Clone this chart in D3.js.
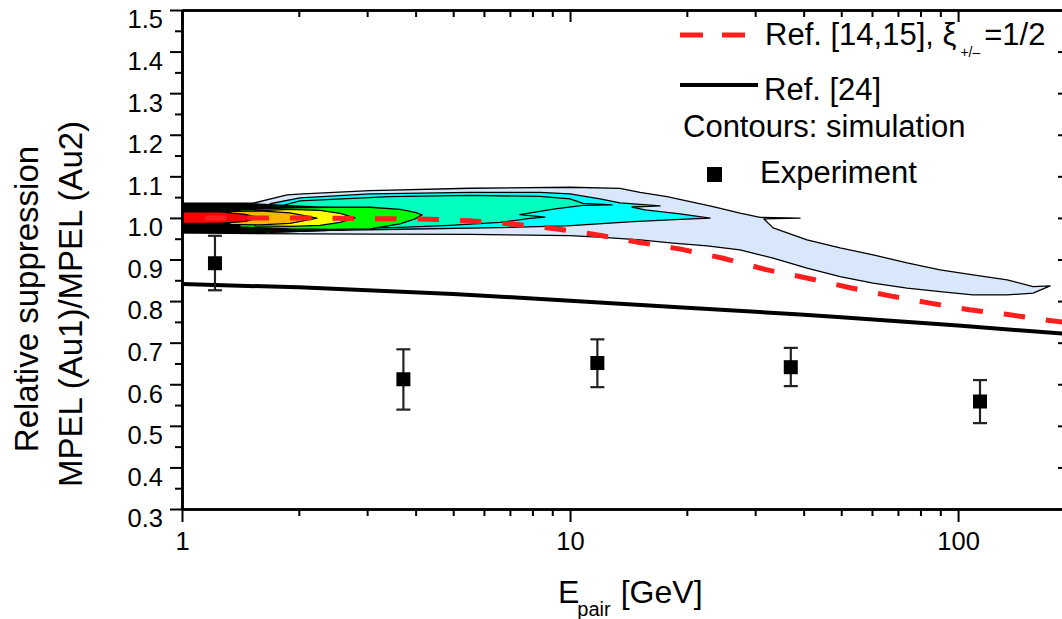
<!DOCTYPE html>
<html>
<head>
<meta charset="utf-8">
<script src="https://cdn.jsdelivr.net/npm/d3@7"></script>
<style>
  body { margin: 0; background: #fff; }
  svg { display: block; font-family: "Liberation Sans", Arial, sans-serif; }
</style>
</head>
<body>
<svg id="chart" width="1062" height="619"></svg>
<script>
// measured points, E_pair [GeV] vs ratio
const expE = [1.216, 3.72, 11.76, 37.06, 113.9];
const expV = [0.891, 0.612, 0.651, 0.641, 0.5585];
const expHi = [0.957, 0.684, 0.708, 0.6875, 0.610];
const expLo = [0.826, 0.539, 0.593, 0.5955, 0.5065];

// Ref. [14,15] (dashed red)
const refAE = [1, 2.01, 4.31, 5.52, 7.13, 9.15, 11.8, 15.1, 19.3, 24.8, 32.2, 41.0, 52.7, 66.8, 84.7, 107, 136, 166, 192];
const refAV = [1.0, 1.0, 0.997, 0.993, 0.985, 0.974, 0.959, 0.941, 0.925, 0.903, 0.875, 0.855, 0.832, 0.8125, 0.795, 0.779, 0.767, 0.755, 0.748];

// Ref. [24] (solid black)
const refBE = [1, 2, 5, 7.43, 10, 20, 39.2, 50, 100, 192];
const refBV = [0.841, 0.833, 0.817, 0.808, 0.801, 0.784, 0.768, 0.761, 0.741, 0.721];

// simulation contours, outline of each level as [E, ratio]
const simOuter = [
  [1.00,1.0353],[1.524,1.0353],[1.865,1.0553],[2.05,1.0577],[3.052,1.0656],[5.525,1.0714],[10.0,1.0738],
  [13.45,1.0709],[15.15,1.0613],[17.78,1.0512],[20.39,1.0392],[23.37,1.0272],[27.42,1.0113],[30.89,1.0012],
  [39.15,0.9995],[31.6,0.9976],[33.37,0.976],[40.81,0.9471],[49.65,0.9279],[60.39,0.9111],[73.88,0.8918],
  [89.87,0.875],[109.3,0.863],[133.8,0.851],[156.1,0.8349],[172.7,0.8365],
  [156.1,0.819],[133.8,0.8149],[109.3,0.8149],[89.87,0.8228],[73.88,0.831],[60.39,0.843],[49.65,0.8589],
  [40.81,0.8791],[33.37,0.9031],[27.42,0.9231],[22.55,0.9327],[18.43,0.9392],[15.15,0.9471],[12.45,0.9526],
  [10.0,0.9575],[5.525,0.9603],[3.052,0.9608],[1.13,0.9632],[1.00,0.9639]
];
const simCyan = [
  [1.686,1.0341],[2.014,1.0481],[3.052,1.0577],[5.525,1.0613],[8.37,1.0613],[10.0,1.0577],[11.95,1.0457],
  [13.45,1.0361],[17.06,1.0288],[14.45,1.0262],[15.61,1.0192],[19.21,1.0096],[22.96,0.9993],
  [19.21,0.9964],[14.54,0.9911],[9.82,0.9808],[6.6,0.9767],[3.647,0.9728],[2.406,0.97],[1.686,0.9651]
];
const simAqua = [
  [1.843,1.0313],[2.014,1.0409],[3.437,1.0512],[5.525,1.0541],[8.37,1.0517],[10.0,1.0457],[10.8,1.0349],
  [12.83,1.0313],[10.8,1.03],[9.15,1.0216],[7.43,1.0077],[8.62,1.0019],[7.89,0.9988],[6.6,0.9892],
  [4.906,0.982],[3.647,0.9772],[2.406,0.9736],[1.843,0.9736]
];
const simDense = [
  [1.0,1.0353],[1.542,1.0353],[1.898,1.0313],[2.268,1.0276],[2.631,1.0252],
  [2.631,0.97],[1.898,0.9656],[1.542,0.9632],[1.0,0.9632]
];
const simGreen = [
  [1.411,1.0192],[1.898,1.024],[2.406,1.0257],[3.052,1.0257],[3.647,1.0204],[3.986,1.0132],[4.156,1.0072],
  [3.986,0.9976],[3.647,0.9856],[3.052,0.9736],[2.406,0.9724],[1.898,0.9736],[1.411,0.9784]
];
const simYellow = [
  [1.542,1.0168],[1.898,1.0204],[2.268,1.018],[2.554,1.0108],[2.792,1.0],
  [2.554,0.9892],[2.268,0.982],[1.898,0.9796],[1.542,0.9808]
];
const simOrange = [
  [1.329,1.0156],[1.589,1.0168],[1.898,1.012],[2.228,0.9993],[1.898,0.9868],[1.589,0.9832],[1.329,0.9844]
];
const simRed = [
  [1.0,1.0151],[1.253,1.0144],[1.453,1.0084],[1.589,1.0],[1.453,0.9916],[1.253,0.9868],[1.0,0.9873]
];

const yMajor = [0.3, 0.4, 0.5, 0.6, 0.7, 0.8, 0.9, 1.0, 1.1, 1.2, 1.3, 1.4, 1.5];
const yMinor = [0.35, 0.45, 0.55, 0.65, 0.75, 0.85, 0.95, 1.05, 1.15, 1.25, 1.35, 1.45];
const xMajor = [1, 10, 100];
const xMinor = [2, 3, 4, 5, 6, 7, 8, 9, 20, 30, 40, 50, 60, 70, 80, 90];

const L = 182, R = 1068, T = 10, B = 509;
const svg = d3.select("#chart");

const x = d3.scaleLog().domain([1, 192]).range([L, R]);
const y = d3.scaleLinear().domain([0.3, 1.5]).range([B, T]);

svg.append("clipPath").attr("id", "clip")
  .append("rect").attr("x", L).attr("y", T).attr("width", R - L).attr("height", B - T);

const plot = svg.append("g").attr("clip-path", "url(#clip)");

// contours, outermost first
const levels = [
  { pts: simOuter, fill: "#d8e8fa", stroke: "#000" },
  { pts: simCyan, fill: "#00ffff", stroke: "#000" },
  { pts: simAqua, fill: "#00ffbe", stroke: "#000" },
  { pts: simDense, fill: "#000", stroke: "none" },
  { pts: simGreen, fill: "#00ff00", stroke: "#000" },
  { pts: simYellow, fill: "#ffff00", stroke: "#000" },
  { pts: simOrange, fill: "#ffb400", stroke: "#000" },
  { pts: simRed, fill: "#ff0000", stroke: "#000" }
];

const ring = d3.line().x(d => x(d[0])).y(d => y(d[1])).curve(d3.curveLinearClosed);
levels.forEach(lv => {
  plot.append("path")
    .attr("d", ring(lv.pts))
    .attr("fill", lv.fill)
    .attr("stroke", lv.stroke)
    .attr("stroke-width", 1.3)
    .attr("stroke-linejoin", "round");
});

const curve = d3.line().x(d => x(d[0])).y(d => y(d[1]));

plot.append("path")
  .attr("d", curve(d3.zip(refAE, refAV)))
  .attr("fill", "none")
  .attr("stroke", "#ff1e1e")
  .attr("stroke-width", 5)
  .attr("stroke-dasharray", "21.5,21")
  .attr("stroke-dashoffset", 19.5);

plot.append("path")
  .attr("d", curve(d3.zip(refBE, refBV)))
  .attr("fill", "none")
  .attr("stroke", "#000")
  .attr("stroke-width", 4);

// experiment with error bars
const pts = plot.selectAll(".pt").data(d3.range(expE.length)).join("g").attr("class", "pt");
pts.append("line")
  .attr("x1", i => x(expE[i])).attr("x2", i => x(expE[i]))
  .attr("y1", i => y(expHi[i])).attr("y2", i => y(expLo[i]))
  .attr("stroke", "#222").attr("stroke-width", 2.2);
pts.selectAll(".cap").data(i => [[i, expHi[i]], [i, expLo[i]]]).join("line")
  .attr("x1", d => x(expE[d[0]]) - 7).attr("x2", d => x(expE[d[0]]) + 7)
  .attr("y1", d => y(d[1])).attr("y2", d => y(d[1]))
  .attr("stroke", "#222").attr("stroke-width", 2.2);
pts.append("rect")
  .attr("x", i => x(expE[i]) - 7).attr("y", i => y(expV[i]) - 7)
  .attr("width", 14).attr("height", 14)
  .attr("fill", "#000");

// axes
function styleAxis(g, w) {
  g.select(".domain").attr("stroke-width", 2.6);
  g.selectAll(".tick line").attr("stroke-width", w);
  g.selectAll("text").attr("font-size", 25.5).attr("fill", "#000")
    .attr("font-family", "Liberation Sans, Arial, sans-serif");
}

svg.append("g").attr("transform", `translate(${L},0)`)
  .call(d3.axisLeft(y).tickValues(yMinor).tickSize(7).tickSizeOuter(0).tickFormat(""))
  .call(g => styleAxis(g, 2));
svg.append("g").attr("transform", `translate(${L},0)`)
  .call(d3.axisLeft(y).tickValues(yMajor).tickSize(12).tickSizeOuter(0).tickPadding(7).tickFormat(d3.format(".1f")))
  .call(g => styleAxis(g, 2))
  .call(g => g.selectAll("text").attr("dy", "0.7em"));

svg.append("g").attr("transform", `translate(${R},0)`)
  .call(d3.axisRight(y).tickValues(yMajor).tickSize(-10).tickSizeOuter(0).tickFormat(""))
  .call(g => styleAxis(g, 2));
svg.append("g").attr("transform", `translate(${R},0)`)
  .call(d3.axisRight(y).tickValues(yMinor).tickSize(-6).tickSizeOuter(0).tickFormat(""))
  .call(g => styleAxis(g, 2));

svg.append("g").attr("transform", `translate(0,${B})`)
  .call(d3.axisBottom(x).tickValues(xMinor).tickSize(7).tickSizeOuter(0).tickFormat(""))
  .call(g => styleAxis(g, 2));
svg.append("g").attr("transform", `translate(0,${B})`)
  .call(d3.axisBottom(x).tickValues(xMajor).tickSize(13).tickSizeOuter(0).tickPadding(10).tickFormat(d3.format("d")))
  .call(g => styleAxis(g, 2));

svg.append("g").attr("transform", `translate(0,${T})`)
  .call(d3.axisTop(x).tickValues(xMinor).tickSize(-7).tickSizeOuter(0).tickFormat(""))
  .call(g => styleAxis(g, 2));
svg.append("g").attr("transform", `translate(0,${T})`)
  .call(d3.axisTop(x).tickValues(xMajor).tickSize(-12).tickSizeOuter(0).tickFormat(""))
  .call(g => styleAxis(g, 2));

// axis titles
const xt = svg.append("text").attr("x", 558).attr("y", 603).attr("font-size", 32).attr("fill", "#000");
xt.append("tspan").text("E");
xt.append("tspan").attr("font-size", 20).attr("dx", -2).attr("dy", 13).text("pair");
xt.append("tspan").attr("dy", -13).attr("dx", 10).text("[GeV]");

svg.append("text")
  .attr("transform", "translate(38,299) rotate(-90)")
  .attr("text-anchor", "middle").attr("font-size", 33).attr("fill", "#000")
  .text("Relative suppression");
svg.append("text")
  .attr("transform", "translate(82,304) rotate(-90)")
  .attr("text-anchor", "middle").attr("font-size", 33).attr("fill", "#000")
  .text("MPEL (Au1)/MPEL (Au2)");

// legend
const lg = svg.append("g").attr("font-size", 31).attr("fill", "#000");
lg.append("line").attr("x1", 680).attr("x2", 745).attr("y1", 35).attr("y2", 35)
  .attr("stroke", "#ff1e1e").attr("stroke-width", 5).attr("stroke-dasharray", "23,19");
const t1 = lg.append("text").attr("x", 765).attr("y", 45);
t1.append("tspan").text("Ref. [14,15], ξ");
t1.append("tspan").attr("font-size", 14).attr("dx", 4).attr("dy", 12).text("+/–");
t1.append("tspan").attr("dx", 4).attr("dy", -12).text("=1/2");

lg.append("line").attr("x1", 680).attr("x2", 758).attr("y1", 85).attr("y2", 85)
  .attr("stroke", "#000").attr("stroke-width", 4);
lg.append("text").attr("x", 764).attr("y", 100).text("Ref. [24]");

lg.append("text").attr("x", 683).attr("y", 137).text("Contours: simulation");

lg.append("rect").attr("x", 707).attr("y", 167).attr("width", 15).attr("height", 15).attr("fill", "#000");
lg.append("text").attr("x", 760).attr("y", 183).text("Experiment");
</script>
</body>
</html>
